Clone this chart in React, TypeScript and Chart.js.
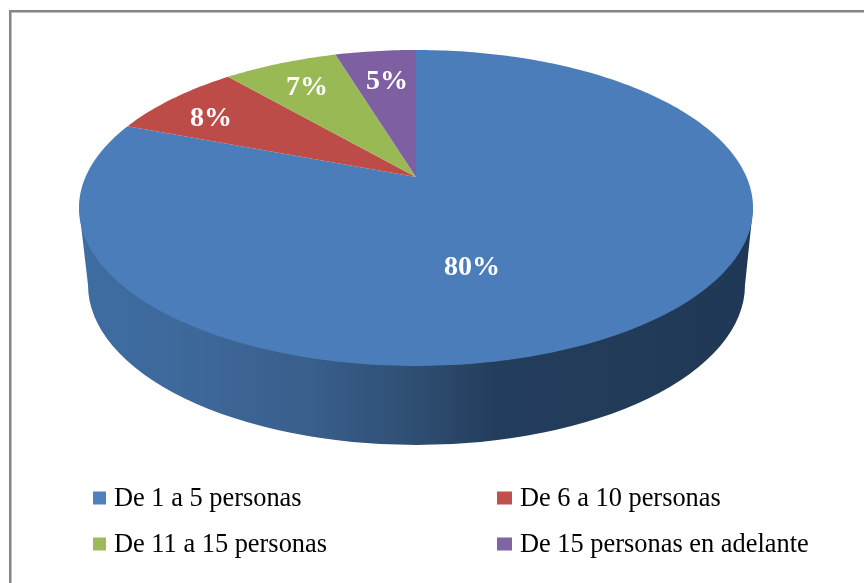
import React, { useEffect, useRef } from "react";
import { Chart, registerables } from "chart.js";

Chart.register(...registerables);

const categories = ["De 1 a 5 personas", "De 6 a 10 personas", "De 11 a 15 personas", "De 15 personas en adelante"];
const values = [80, 8, 7, 5];
const valueLabels = ["80%", "8%", "7%", "5%"];
const sliceColors = ["#4a7dba", "#bd4c49", "#98b954", "#7d5fa2"];
const legendColors = ["#4f81bd", "#c0504d", "#9bbb59", "#8064a2"];
const labelAnchors = [[472, 268], [211, 119], [307, 88], [387, 82]];
const legendAnchors = [[93, 498, 13], [497, 498, 15], [93, 544, 13], [497, 544, 15]];

// perspective of the disc
const CX = 416, AY = 177, K = -0.196, A = 330.5, B = 151.9;
const DEG = Math.PI / 180;
const project = (angle: number) => {
  // small lens correction of the back-left quadrant, as in the 3D rendering
  const t = ((-Math.PI / 2 - angle) % (2 * Math.PI) + 2 * Math.PI) % (2 * Math.PI);
  const a = t < 144 * DEG ? angle + 3 * DEG * Math.sin(1.25 * t) : angle;
  const u = Math.cos(a), v = Math.sin(a);
  const d = 1 + K * v;
  return [CX + (A * u) / d, AY + (B * v) / d];
};

const pie3d = {
  id: "pie3d",
  beforeDatasetDraw(chart: any) {
    const ctx = chart.ctx as CanvasRenderingContext2D;
    // frame
    ctx.save();
    ctx.fillStyle = "#868686";
    ctx.fillRect(9, 10, 855, 2.5);
    ctx.fillRect(9, 10, 2.5, 573);

    // side wall
    const g = ctx.createLinearGradient(80, 0, 750, 0);
    g.addColorStop(0, "#3e6da3");
    g.addColorStop(0.18, "#3d6899");
    g.addColorStop(0.35, "#385e8a");
    g.addColorStop(0.5, "#2f4e73");
    g.addColorStop(0.62, "#233e5c");
    g.addColorStop(1, "#1f3855");
    ctx.fillStyle = g;
    ctx.beginPath();
    ctx.moveTo(79, 208);
    ctx.lineTo(88, 285);
    ctx.ellipse(416.5, 285, 328.5, 160, 0, Math.PI, 0, true);
    ctx.lineTo(753, 208);
    ctx.closePath();
    ctx.fill();

    // top face, one wedge per arc element
    const meta = chart.getDatasetMeta(0);
    meta.data.forEach((arc: any, i: number) => {
      const { startAngle, endAngle } = arc.getProps(["startAngle", "endAngle"], true);
      ctx.beginPath();
      ctx.moveTo(CX, AY);
      const steps = Math.ceil((endAngle - startAngle) / DEG);
      for (let s = 0; s <= steps; s++) {
        const p = project(startAngle + ((endAngle - startAngle) * s) / steps);
        ctx.lineTo(p[0], p[1]);
      }
      ctx.closePath();
      ctx.fillStyle = sliceColors[i];
      ctx.fill();
    });

    // value labels
    ctx.fillStyle = "#ffffff";
    ctx.font = "bold 28px 'Liberation Serif'";
    ctx.textAlign = "center";
    ctx.textBaseline = "middle";
    valueLabels.forEach((t, i) => ctx.fillText(t, labelAnchors[i][0], labelAnchors[i][1]));

    // legend
    ctx.font = "26.4px 'Liberation Serif'";
    ctx.textAlign = "left";
    categories.forEach((t, i) => {
      const [x, y, w] = legendAnchors[i];
      ctx.fillStyle = legendColors[i];
      ctx.fillRect(x, y - 6.5, w, 13);
      ctx.fillStyle = "#000000";
      ctx.fillText(t, x + w + 8, y + 1);
    });
    ctx.restore();
    return false;
  },
};

export default function App() {
  const ref = useRef<HTMLCanvasElement>(null);
  useEffect(() => {
    document.body.style.margin = "0";
    const chart = new Chart(ref.current!, {
      type: "pie",
      data: { labels: categories, datasets: [{ data: values, backgroundColor: sliceColors, borderWidth: 0 }] },
      options: {
        animation: false,
        responsive: false,
        plugins: { legend: { display: false }, tooltip: { enabled: false } },
      },
      plugins: [pie3d],
    });
    return () => chart.destroy();
  }, []);
  return <canvas ref={ref} width={864} height={583} style={{ display: "block", background: "#fff" }} />;
}
